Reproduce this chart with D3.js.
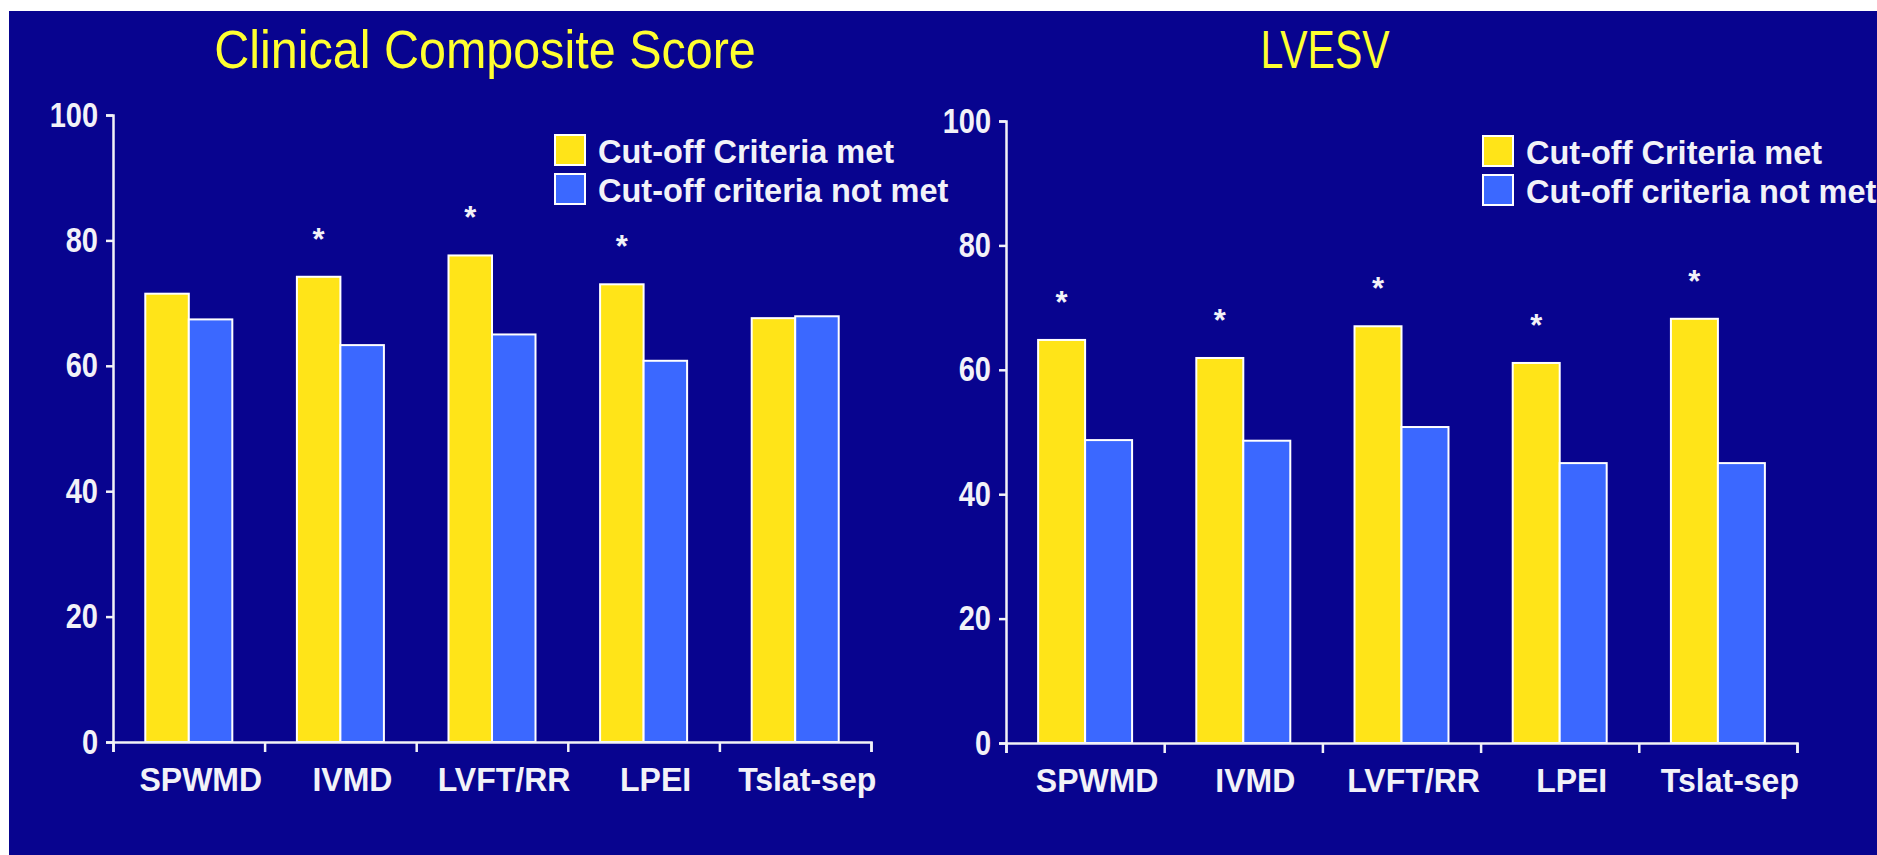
<!DOCTYPE html>
<html>
<head>
<meta charset="utf-8">
<script src="https://cdn.jsdelivr.net/npm/d3@7"></script>
<style>
  html, body { margin: 0; padding: 0; background: #ffffff; }
  svg { display: block; }
  text { font-family: "Liberation Sans", Arial, sans-serif; }
</style>
</head>
<body>
<script>
// Categories (echo indices) shared by both panels
const categories = ["SPWMD", "IVMD", "LVFT/RR", "LPEI", "Tslat-sep"];
const seriesNames = ["Cut-off Criteria met", "Cut-off criteria not met"];
const yTicks = [0, 20, 40, 60, 80, 100];

// Clinical composite score, % responders
const ccsMet    = [71.5, 74.2, 77.6, 73.0, 67.6];
const ccsNotMet = [67.4, 63.3, 65.0, 60.8, 67.9];
const ccsStars  = ["IVMD", "LVFT/RR", "LPEI"];

// LVESV, % responders
const lvMet    = [64.8, 61.9, 67.0, 61.1, 68.2];
const lvNotMet = [48.7, 48.6, 50.8, 45.0, 45.0];
const lvStars  = ["SPWMD", "IVMD", "LVFT/RR", "LPEI", "Tslat-sep"];

const W = 1877, H = 855;
const BG = "#08048f", YEL = "#ffe418", BLU = "#3b68ff", INK = "#f2f2f8", TITLE = "#ffff30";

const svg = d3.select("body").append("svg").attr("width", W).attr("height", H);
// slide area (thin white margin on top and left)
svg.append("rect").attr("x", 9).attr("y", 11).attr("width", W - 9).attr("height", H - 11).attr("fill", BG);

function panel(opt) {
  const g = svg.append("g");
  const y = d3.scaleLinear().domain([0, 100]).range([opt.y0, opt.y100]);
  const xi = d3.scaleLinear().domain([0, categories.length]).range([opt.x0, opt.x1]);
  const pad = opt.pad;
  const x = d3.scaleBand().domain(categories).range([opt.x0, opt.x1])
    .paddingInner(pad).paddingOuter(pad / 2);
  const xs = d3.scaleBand().domain(seriesNames).range([0, x.bandwidth()]);
  const color = d3.scaleOrdinal().domain(seriesNames).range([YEL, BLU]);

  const rows = categories.map((c, i) => ({ cat: c, vals: [opt.met[i], opt.notMet[i]] }));

  // bars
  g.selectAll("g.cat").data(rows).join("g")
    .attr("class", "cat")
    .attr("transform", d => `translate(${x(d.cat)},0)`)
    .selectAll("rect").data(d => d.vals.map((v, k) => ({ s: seriesNames[k], v })))
    .join("rect")
    .attr("x", d => xs(d.s))
    .attr("width", xs.bandwidth())
    .attr("y", d => y(d.v))
    .attr("height", d => y(0) - y(d.v))
    .attr("fill", d => color(d.s))
    .attr("stroke", "#ffffff")
    .attr("stroke-width", 2);

  // significance marks above the "met" bar
  g.selectAll("text.star").data(rows.filter(r => opt.stars.includes(r.cat))).join("text")
    .attr("class", "star")
    .attr("x", d => x(d.cat) + xs(seriesNames[0]) + xs.bandwidth() / 2)
    .attr("y", d => y(d.vals[0]) - 27)
    .attr("text-anchor", "middle")
    .attr("fill", INK)
    .attr("font-size", 31)
    .attr("font-weight", "bold")
    .text("*");

  // y axis
  const ya = g.append("g").attr("transform", `translate(${opt.x0},0)`)
    .call(d3.axisLeft(y).tickValues(yTicks).tickSize(7).tickPadding(8));
  ya.select(".domain").attr("stroke", INK).attr("stroke-width", 2.5);
  ya.selectAll(".tick line").attr("stroke", INK).attr("stroke-width", 2.5);
  ya.selectAll(".tick text").attr("fill", INK).attr("font-size", 29).attr("font-weight", "bold")
    .attr("font-family", "Liberation Sans, Arial, sans-serif")
    .attr("transform", "scale(1,1.2)");

  // x axis with ticks at band boundaries
  const xa = g.append("g").attr("transform", `translate(0,${opt.y0})`)
    .call(d3.axisBottom(xi).ticks(categories.length).tickSize(10).tickFormat(""));
  xa.select(".domain").attr("stroke", INK).attr("stroke-width", 2.5);
  xa.selectAll(".tick line").attr("stroke", INK).attr("stroke-width", 2.5);

  g.selectAll("text.cat").data(categories).join("text")
    .attr("class", "cat")
    .attr("transform", d => `translate(${x(d) + x.bandwidth() / 2 + opt.labelShift},${opt.y0 + 49}) scale(1,1.02)`)
    .attr("text-anchor", "middle")
    .attr("fill", INK)
    .attr("font-size", 32)
    .attr("font-weight", "bold")
    .text(d => d);

  // title
  g.append("text")
    .attr("transform", `translate(${opt.titleX},${opt.titleY}) scale(1,${opt.titleStretch})`)
    .attr("text-anchor", "middle")
    .attr("fill", TITLE)
    .attr("font-size", opt.titleSize)
    .text(opt.title);

  // legend
  const lg = g.append("g").attr("transform", `translate(${opt.legX},${opt.legY})`);
  const items = lg.selectAll("g").data(seriesNames).join("g")
    .attr("transform", (d, i) => `translate(0,${i * 39})`);
  items.append("rect").attr("width", 30).attr("height", 30)
    .attr("fill", d => color(d)).attr("stroke", "#ffffff").attr("stroke-width", 2);
  items.append("text").attr("x", 43).attr("y", 28)
    .attr("fill", INK).attr("font-size", 32.5).attr("font-weight", "bold")
    .text(d => d);
}

panel({
  title: "Clinical Composite Score", titleX: 485, titleY: 68, titleSize: 48.5, titleStretch: 1.1,
  x0: 113, x1: 871, y0: 742, y100: 115, pad: 0.426, labelShift: 12,
  met: ccsMet, notMet: ccsNotMet, stars: ccsStars,
  legX: 555, legY: 135
});

panel({
  title: "LVESV", titleX: 1325, titleY: 68, titleSize: 41, titleStretch: 1.3,
  x0: 1006, x1: 1797, y0: 743, y100: 121, pad: 0.406, labelShift: 12,
  met: lvMet, notMet: lvNotMet, stars: lvStars,
  legX: 1483, legY: 136
});
</script>
</body>
</html>
